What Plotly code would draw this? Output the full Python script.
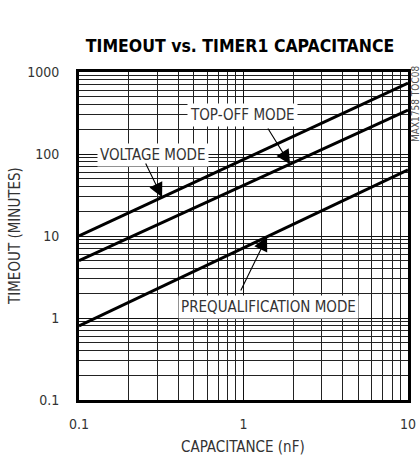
import numpy as np
import plotly.graph_objects as go

# ---- data ----
capacitance_nf = [0.1, 1, 10]
voltage_mode = [10, 86, 734]
topoff_mode = [5, 41, 344]
prequal_mode = [0.8, 7.2, 64]

x_tick_vals = [0.1, 1, 10]
x_tick_text = ["0.1", "1", "10"]
y_tick_vals = [0.1, 1, 10, 100, 1000]
y_tick_text = ["0.1", "1", "10", "100", "1000"]

FONT = "DejaVu Sans Condensed, Roboto, sans-serif"
W, H = 420, 460
ML, MR, MT, MB = 79, 12, 72, 60

def px(xp):
    return (xp - ML) / (W - ML - MR)

def py(yp):
    return (H - MB - yp) / (H - MT - MB)

def minor_vals(lo_exp, hi_exp):
    out = []
    for e in range(lo_exp, hi_exp):
        for m in range(2, 10):
            out.append(m * 10.0 ** e)
    return out

def on_line(series, xv):
    lx = np.log10(capacitance_nf)
    ly = np.log10(series)
    return float(np.interp(np.log10(xv), lx, ly))

fig = go.Figure()
for s in [voltage_mode, topoff_mode, prequal_mode]:
    fig.add_trace(go.Scatter(x=capacitance_nf, y=s, mode="lines",
                             line=dict(color="black", width=3),
                             showlegend=False, hoverinfo="skip", cliponaxis=True))

axis_common = dict(
    type="log", showline=True, mirror=True, linecolor="black", linewidth=3,
    showgrid=True, gridcolor="#111", gridwidth=1.3, ticks="", zeroline=False,
    automargin=False,
    tickfont=dict(family=FONT, size=14, color="#333"),
)
fig.update_xaxes(range=[-1, 1], tickvals=x_tick_vals, ticktext=x_tick_text,
                 minor=dict(tickvals=minor_vals(-1, 1), showgrid=True,
                            gridcolor="#222", gridwidth=1, ticks=""),
                 ticklabelstandoff=9, **axis_common)
fig.update_yaxes(range=[-1, 3], tickvals=y_tick_vals, ticktext=y_tick_text,
                 minor=dict(tickvals=minor_vals(-1, 3), showgrid=True,
                            gridcolor="#222", gridwidth=1, ticks=""),
                 ticklabelstandoff=14, **axis_common)

label_font = dict(family=FONT, size=15, color="#333")
labels = [
    ("TOP-OFF MODE", -0.009, 2.476),
    ("VOLTAGE MODE", -0.55, 1.988),
    ("PREQUALIFICATION MODE", 0.149, 0.134),
]
for txt, lx, ly in labels:
    fig.add_annotation(x=lx, y=ly, xref="x", yref="y", text=txt, showarrow=False,
                       bgcolor="white", borderpad=2, font=label_font)

arrows = [
    (voltage_mode, 0.32, -0.599, 1.902),
    (topoff_mode, 1.92, 0.143, 2.329),
    (prequal_mode, 1.39, -0.021, 0.317),
]
for s, tx, ax, ay in arrows:
    fig.add_annotation(x=np.log10(tx), y=on_line(s, tx), xref="x", yref="y",
                       ax=ax, ay=ay, axref="x", ayref="y", text="",
                       showarrow=True, arrowhead=2, arrowsize=2.6, arrowwidth=1.1,
                       arrowcolor="black")

# axis titles and side note
fig.add_annotation(x=px(243), y=py(447), xref="paper", yref="paper",
                   text="CAPACITANCE (nF)", showarrow=False,
                   xanchor="center", yanchor="middle",
                   font=dict(family=FONT, size=15, color="#333"))
fig.add_annotation(x=px(15), y=py(236), xref="paper", yref="paper",
                   text="TIMEOUT (MINUTES)", showarrow=False, textangle=-90,
                   xanchor="center", yanchor="middle",
                   font=dict(family=FONT, size=15, color="#333"))
fig.add_annotation(x=px(415), y=py(104), xref="paper", yref="paper",
                   text="MAX1758 TOC08", showarrow=False, textangle=-90,
                   xanchor="center", yanchor="middle",
                   font=dict(family=FONT, size=10, color="#555"))

fig.update_layout(
    width=W, height=H,
    margin=dict(l=ML, r=MR, t=MT, b=MB),
    paper_bgcolor="white", plot_bgcolor="white",
    title=dict(text="<b>TIMEOUT vs. TIMER1 CAPACITANCE</b>", x=240 / W, xanchor="center",
               y=1 - 46 / H, yanchor="middle",
               font=dict(family=FONT, size=17.5, color="black")),
)

fig.write_html("out.html", config={"displayModeBar": False},
               post_script="document.body.style.margin='0';document.body.style.overflow='hidden';")
